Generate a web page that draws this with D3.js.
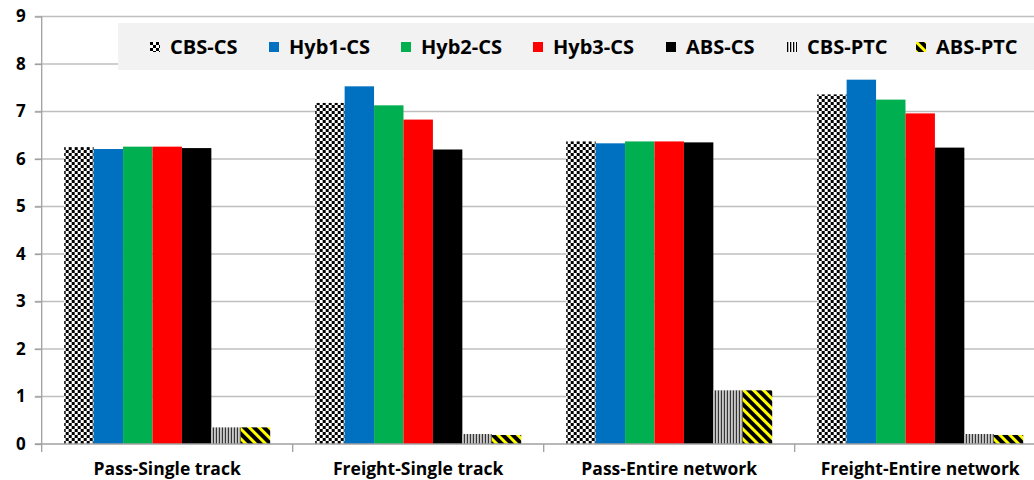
<!DOCTYPE html>
<html>
<head>
<meta charset="utf-8">
<script src="https://d3js.org/d3.v7.min.js"></script>
<style>
  body { margin: 0; background: #fff; }
  text { font-family: "Open Sans", sans-serif; font-weight: bold; fill: #000; }
</style>
</head>
<body>
<div id="chart"></div>
<script>
// categories and series
const categories = ["Pass-Single track", "Freight-Single track", "Pass-Entire network", "Freight-Entire network"];
const seriesNames = ["CBS-CS", "Hyb1-CS", "Hyb2-CS", "Hyb3-CS", "ABS-CS", "CBS-PTC", "ABS-PTC"];
const cbsCS  = [6.25, 7.18, 6.37, 7.36];
const hyb1CS = [6.21, 7.53, 6.33, 7.67];
const hyb2CS = [6.26, 7.13, 6.37, 7.25];
const hyb3CS = [6.26, 6.83, 6.37, 6.96];
const absCS  = [6.23, 6.20, 6.35, 6.24];
const cbsPTC = [0.35, 0.21, 1.13, 0.21];
const absPTC = [0.35, 0.19, 1.13, 0.19];
const yTicks = [0, 1, 2, 3, 4, 5, 6, 7, 8, 9];

const seriesValues = [cbsCS, hyb1CS, hyb2CS, hyb3CS, absCS, cbsPTC, absPTC];
const fills = ["url(#checker)", "#0070c0", "#00b050", "#ff0000", "#000000", "url(#vstripe)", "url(#diag)"];

const W = 1034, H = 480;
const svg = d3.select("#chart").append("svg")
    .attr("width", W).attr("height", H);

// patterns
const defs = svg.append("defs");
const checker = defs.append("pattern").attr("id", "checker")
    .attr("patternUnits", "userSpaceOnUse").attr("width", 6).attr("height", 6);
checker.append("rect").attr("width", 6).attr("height", 6).attr("fill", "#fff");
checker.append("rect").attr("width", 3).attr("height", 3).attr("fill", "#000");
checker.append("rect").attr("x", 3).attr("y", 3).attr("width", 3).attr("height", 3).attr("fill", "#000");

const vstripe = defs.append("pattern").attr("id", "vstripe")
    .attr("patternUnits", "userSpaceOnUse").attr("width", 3).attr("height", 3);
vstripe.append("rect").attr("width", 3).attr("height", 3).attr("fill", "#fff");
vstripe.append("rect").attr("width", 1.3).attr("height", 3).attr("fill", "#000");

const diag = defs.append("pattern").attr("id", "diag")
    .attr("patternUnits", "userSpaceOnUse").attr("width", 7).attr("height", 7)
    .attr("patternTransform", "rotate(-45)");
diag.append("rect").attr("width", 7).attr("height", 7).attr("fill", "#ffff00");
diag.append("rect").attr("width", 4).attr("height", 7).attr("fill", "#000");

// scales
const plotLeft = 41.7, plotRight = 1045.7, plotTop = 16.5, plotBottom = 444;
const y = d3.scaleLinear().domain([0, 9]).range([plotBottom, plotTop]);
const x0 = d3.scaleBand().domain(categories).range([plotLeft, plotRight]).padding(0);
const x1 = d3.scaleBand().domain(seriesNames)
    .range([22.5, x0.bandwidth() - 22.5]).padding(0);

// gridlines
svg.append("g").selectAll("line").data(yTicks.filter(d => d > 0)).join("line")
    .attr("x1", 35).attr("x2", W)
    .attr("y1", d => y(d)).attr("y2", d => y(d))
    .attr("stroke", "#bfbfbf").attr("stroke-width", 1.3);

// y axis
const yAxis = svg.append("g").attr("transform", `translate(${plotLeft},0)`)
    .call(d3.axisLeft(y).tickValues(yTicks).tickSize(7).tickPadding(10));
yAxis.select(".domain").attr("stroke", "#a0a0a0").attr("stroke-width", 1.3)
    .attr("d", `M0,${plotTop}V${plotBottom + 8}`);
yAxis.selectAll(".tick line").attr("stroke", "#a0a0a0").attr("stroke-width", 1.3);
yAxis.selectAll(".tick text").attr("font-size", 17).attr("font-family", "Open Sans")
    .attr("font-weight", "bold").attr("fill", "#000").attr("x", -16);

// bars
const groups = svg.append("g").selectAll("g").data(categories).join("g")
    .attr("transform", d => `translate(${x0(d)},0)`);
groups.selectAll("rect")
    .data((c, ci) => seriesNames.map((s, si) => ({s, si, v: seriesValues[si][ci]})))
    .join("rect")
    .attr("x", d => x1(d.s))
    .attr("width", x1.bandwidth())
    .attr("y", d => y(d.v))
    .attr("height", d => plotBottom - y(d.v))
    .attr("fill", d => fills[d.si]);

// x axis
const xAxis = svg.append("g").attr("transform", `translate(0,${plotBottom})`)
    .call(d3.axisBottom(x0).tickSize(0));
xAxis.select(".domain").attr("stroke", "#a0a0a0").attr("stroke-width", 1.3)
    .attr("d", `M35,0H${W}`);
xAxis.selectAll(".tick text").attr("font-size", 17.5).attr("font-family", "Open Sans")
    .attr("font-weight", "bold").attr("fill", "#000").attr("y", 31).attr("dy", 0);
// category separators
svg.append("g").selectAll("line").data(categories.slice(1)).join("line")
    .attr("x1", d => x0(d)).attr("x2", d => x0(d))
    .attr("y1", plotBottom).attr("y2", plotBottom + 8)
    .attr("stroke", "#a0a0a0").attr("stroke-width", 1.3);

// legend
const legendX = [150, 269, 401, 533, 666, 787, 916];
const lg = svg.append("g");
lg.append("rect").attr("x", 118).attr("y", 23).attr("width", W - 118).attr("height", 47)
    .attr("fill", "#f2f2f2");
const items = lg.selectAll("g").data(seriesNames).join("g")
    .attr("transform", (d, i) => `translate(${legendX[i]},0)`);
items.append("rect").attr("x", 0).attr("y", 42).attr("width", 10).attr("height", 10)
    .attr("fill", (d, i) => fills[i]);
items.append("text").attr("x", 20).attr("y", 54).attr("font-size", 20).text(d => d);
</script>
</body>
</html>
